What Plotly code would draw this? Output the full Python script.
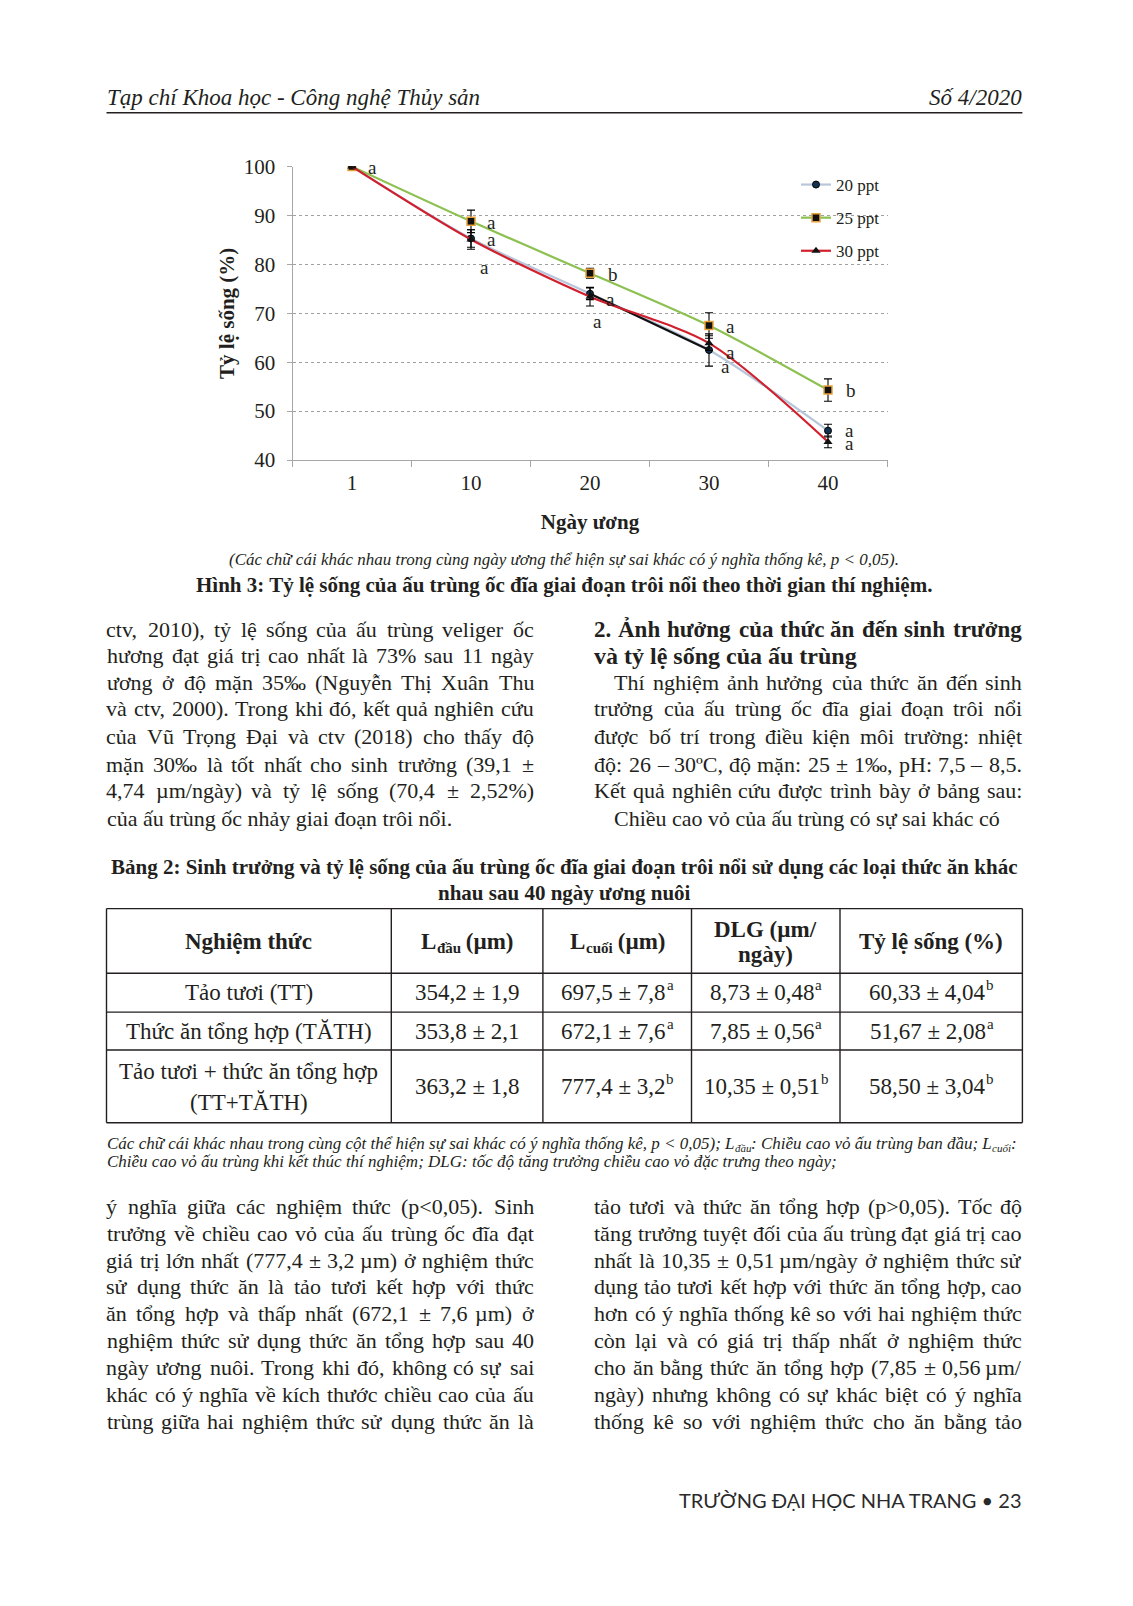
import unicodedata
import plotly.graph_objects as go

W, H = 1133, 1606
SERIF = "Liberation Serif, DejaVu Serif, serif"
INK = "#231f20"

# ---- chart data ----
days = ["1", "10", "20", "30", "40"]
s20 = [100, 85.3, 74.0, 62.5, 46.0]
s20_err = [0, 1.8, 1.2, 3.3, 1.3]
s25 = [100, 88.8, 78.2, 67.5, 54.3]
s25_err = [0, 2.3, 1.0, 2.6, 2.3]
s30 = [100, 85.1, 73.4, 63.9, 43.7]
s30_err = [0, 2.0, 1.9, 1.5, 1.2]

# significance letters
sig_day = [0, 1, 1, 1, 2, 2, 2, 3, 3, 3, 4, 4, 4]
sig_txt = ["a", "a", "a", "a", "b", "a", "a", "a", "a", "a", "b", "a", "a"]
sig_y = [99.8, 88.6, 85.1, 79.3, 78.0, 72.9, 68.4, 67.2, 61.9, 59.1, 54.2, 46.0, 43.3]
sig_dx = [0.17, 0.17, 0.17, 0.11, 0.19, 0.17, 0.06, 0.18, 0.18, 0.14, 0.19, 0.18, 0.18]

# ---- table data ----
treat = ["Tảo tươi (TT)", "Thức ăn tổng hợp (TĂTH)", "Tảo tươi + thức ăn tổng hợp"]
l_start = ["354,2 ± 1,9", "353,8 ± 2,1", "363,2 ± 1,8"]
l_end = ["697,5 ± 7,8", "672,1 ± 7,6", "777,4 ± 3,2"]
l_end_sig = ["a", "a", "b"]
dlg = ["8,73 ± 0,48", "7,85 ± 0,56", "10,35 ± 0,51"]
dlg_sig = ["a", "a", "b"]
surv = ["60,33 ± 4,04", "51,67 ± 2,08", "58,50 ± 3,04"]
surv_sig = ["b", "a", "b"]

# ---- page text ----
left_top = [
    "ctv, 2010), tỷ lệ sống của ấu trùng veliger ốc",
    "hương đạt giá trị cao nhất là 73% sau 11 ngày",
    "ương ở độ mặn 35‰ (Nguyễn Thị Xuân Thu",
    "và ctv, 2000). Trong khi đó, kết quả nghiên cứu",
    "của Vũ Trọng Đại và ctv (2018) cho thấy độ",
    "mặn 30‰ là tốt nhất cho sinh trưởng (39,1 ±",
    "4,74 µm/ngày) và tỷ lệ sống (70,4 ± 2,52%)",
    "của ấu trùng ốc nhảy giai đoạn trôi nổi.",
]
right_head = ["2. Ảnh hưởng của thức ăn đến sinh trưởng", "và tỷ lệ sống của ấu trùng"]
right_top = [
    "Thí nghiệm ảnh hưởng của thức ăn đến sinh",
    "trưởng của ấu trùng ốc đĩa giai đoạn trôi nổi",
    "được bố trí trong điều kiện môi trường: nhiệt",
    "độ: 26 – 30ºC, độ mặn: 25 ± 1‰, pH: 7,5 – 8,5.",
    "Kết quả nghiên cứu được trình bày ở bảng sau:",
    "Chiều cao vỏ của ấu trùng có sự sai khác có",
]
left_bot = [
    "ý nghĩa giữa các nghiệm thức (p<0,05). Sinh",
    "trưởng về chiều cao vỏ của ấu trùng ốc đĩa đạt",
    "giá trị lớn nhất (777,4 ± 3,2 µm) ở nghiệm thức",
    "sử dụng thức ăn là tảo tươi kết hợp với thức",
    "ăn tổng hợp và thấp nhất (672,1 ± 7,6 µm) ở",
    "nghiệm thức sử dụng thức ăn tổng hợp sau 40",
    "ngày ương nuôi. Trong khi đó, không có sự sai",
    "khác có ý nghĩa về kích thước chiều cao của ấu",
    "trùng giữa hai nghiệm thức sử dụng thức ăn là",
]
right_bot = [
    "tảo tươi và thức ăn tổng hợp (p>0,05). Tốc độ",
    "tăng trưởng tuyệt đối của ấu trùng đạt giá trị cao",
    "nhất là 10,35 ± 0,51 µm/ngày ở nghiệm thức sử",
    "dụng tảo tươi kết hợp với thức ăn tổng hợp, cao",
    "hơn có ý nghĩa thống kê so với hai nghiệm thức",
    "còn lại và có giá trị thấp nhất ở nghiệm thức",
    "cho ăn bằng thức ăn tổng hợp (7,85 ± 0,56 µm/",
    "ngày) nhưng không có sự khác biệt có ý nghĩa",
    "thống kê so với nghiệm thức cho ăn bằng tảo",
]
fig_note = "(Các chữ cái khác nhau trong cùng ngày ương thể hiện sự sai khác có ý nghĩa thống kê, p < 0,05)."
fig_cap = "Hình 3: Tỷ lệ sống của ấu trùng ốc đĩa giai đoạn trôi nổi theo thời gian thí nghiệm."
tbl_cap = ["Bảng 2: Sinh trưởng và tỷ lệ sống của ấu trùng ốc đĩa giai đoạn trôi nổi sử dụng các loại thức ăn khác",
           "nhau sau 40 ngày ương nuôi"]
tbl_note2 = "Chiều cao vỏ ấu trùng khi kết thúc thí nghiệm; DLG: tốc độ tăng trưởng chiều cao vỏ đặc trưng theo ngày;"
tbl_note1 = [("Các chữ cái khác nhau trong cùng cột thể hiện sự sai khác có ý nghĩa thống kê, p < 0,05); L", "n"),
             ("đầu", "sub"), (": Chiều cao vỏ ấu trùng ban đầu; L", "n"), ("cuối", "sub"), (":", "n")]

# ---- Times metrics (per 1000 em) ----
LOW = "abcdefghijklmnopqrstuvwxyz"
UP = LOW.upper()
W_LOW = {
    "r": [444, 500, 444, 500, 444, 333, 500, 500, 278, 278, 500, 278, 778, 500, 500, 500, 500, 333, 389, 278, 500, 500, 722, 500, 500, 444],
    "b": [500, 556, 444, 556, 444, 333, 500, 556, 278, 333, 556, 278, 833, 556, 500, 556, 556, 444, 389, 333, 556, 500, 722, 500, 500, 444],
    "i": [500, 500, 444, 500, 444, 278, 500, 500, 278, 278, 444, 278, 722, 500, 500, 500, 500, 389, 389, 278, 500, 444, 667, 444, 444, 389],
}
W_UP = {
    "r": [722, 667, 667, 722, 611, 556, 722, 722, 333, 389, 722, 611, 889, 722, 722, 556, 722, 667, 556, 611, 722, 722, 944, 722, 722, 611],
    "b": [722, 667, 722, 722, 667, 611, 778, 778, 389, 500, 778, 667, 944, 722, 778, 611, 778, 722, 556, 667, 722, 722, 1000, 722, 722, 667],
    "i": [611, 611, 667, 722, 611, 611, 722, 722, 333, 444, 667, 556, 833, 667, 722, 611, 722, 611, 500, 556, 722, 611, 833, 611, 556, 556],
}
PUNCT = {
    "r": {" ": 250, ",": 250, ".": 250, ":": 278, ";": 278, "(": 333, ")": 333, "-": 333, "/": 278, "%": 833,
          "+": 564, "<": 564, ">": 564, "±": 564, "‰": 1000, "µ": 500, "–": 500, "º": 310},
    "b": {" ": 250, ",": 250, ".": 250, ":": 333, ";": 333, "(": 333, ")": 333, "-": 333, "/": 278, "%": 1000,
          "+": 570, "<": 570, ">": 570, "±": 570, "‰": 1000, "µ": 556, "–": 500, "º": 330},
    "i": {" ": 250, ",": 250, ".": 250, ":": 333, ";": 333, "(": 333, ")": 333, "-": 333, "/": 278, "%": 833,
          "+": 675, "<": 675, ">": 675, "±": 675, "‰": 1000, "µ": 500, "–": 500, "º": 310},
}
HORN = {"r": 560, "b": 620, "i": 540}


def cw(ch, st):
    if ch.isdigit():
        return 500
    if ch in PUNCT[st]:
        return PUNCT[st][ch]
    d = unicodedata.normalize("NFD", ch)
    b = d[0]
    if ch == "đ":
        b = "d"
    if ch == "Đ":
        b = "D"
    if "\u031b" in d:
        return HORN[st] if b in "uo" else 760
    if b in LOW:
        return W_LOW[st][LOW.index(b)]
    if b in UP:
        return W_UP[st][UP.index(b)]
    return 500


def em(s, st="r"):
    return sum(cw(c, st) for c in s) / 1000


annos = []
shapes = []


def px(x):
    return x / W


def py(y):
    return 1 - y / H


def add(txt, x, y, size, st="r", anchor="left", color=INK, family=SERIF):
    txt = txt.replace("<", "&lt;").replace(">", "&gt;")
    f = dict(family=family, size=int(round(size)), color=color)
    if st == "b":
        f["weight"] = "bold"
    elif st == "i":
        f["style"] = "italic"
    annos.append(dict(x=px(x), y=py(y), xref="paper", yref="paper", text=txt, showarrow=False,
                      xanchor=anchor, yanchor="middle", borderpad=0, borderwidth=0, font=f))


def add_runs(runs, x, y, size, st="r", anchor="left"):
    # text with sub/superscript parts, each part its own label
    size = int(round(size))
    small = int(round(size * 0.65))
    widths = [em(t, st) * (small if k != "n" else size) for t, k in runs]
    left = x - sum(widths) / 2 if anchor == "center" else x
    for (t, k), w in zip(runs, widths):
        if k == "n":
            add(t, left, y, size, st)
        elif k == "sub":
            add(t, left + 0.5, y + 0.3 * size, small, st)
        else:
            add(t, left + 0.5, y - 0.33 * size, small, st)
        left += w


def line_just(txt, y, x0, x1, size, st="r", just=True, indent=0):
    # justified line: first half of the words laid from the left edge, the rest from the right edge
    left = x0 + indent
    words = txt.split(" ")
    if not just or len(words) < 2:
        add(txt, left, y, size, st)
        return
    ws = [em(w, st) * size for w in words]
    n = len(words)
    gap = max((x1 - left - sum(ws)) / (n - 1), 0.15 * size)
    half = (n + 1) // 2
    x = left
    for i in range(half):
        add(words[i], x, y, size, st)
        x += ws[i] + gap
    x = x1
    for i in range(n - 1, half - 1, -1):
        add(words[i], x, y, size, st, "right")
        x -= ws[i] + gap


def hline(x0, x1, y, w=1.4):
    shapes.append(dict(type="line", xref="paper", yref="paper", x0=px(x0), x1=px(x1), y0=py(y), y1=py(y),
                       line=dict(color=INK, width=w)))


def vline(x, y0, y1, w=1.4):
    shapes.append(dict(type="line", xref="paper", yref="paper", x0=px(x), x1=px(x), y0=py(y0), y1=py(y1),
                       line=dict(color=INK, width=w)))


# ---- header / footer ----
LX0, LX1 = 106.5, 533.7
RX0, RX1 = 594.2, 1022.4
add("Tạp chí Khoa học - Công nghệ Thủy sản", LX0, 97, 23, "i")
add("Số 4/2020", RX1, 97, 23, "i", "right")
hline(LX0, RX1, 112.7, 1.5)
add("TRƯỜNG ĐẠI HỌC NHA TRANG • 23", RX1, 1500, 20, "r", "right", "#2a2a2a", "Lato, DejaVu Sans, sans-serif")

# ---- captions ----
mid = (LX0 + RX1) / 2
add(fig_note, mid, 559, 654 / em(fig_note, "i"), "i", "center")
add(fig_cap, mid, 585, 723 / em(fig_cap, "b"), "b", "center")
cap_size = 898 / em(tbl_cap[0], "b")
add(tbl_cap[0], mid, 867, cap_size, "b", "center")
add(tbl_cap[1], mid, 893, cap_size, "b", "center")
note_size = 712 / em(tbl_note2, "i")
add_runs(tbl_note1, LX0, 1143, note_size, "i")
add(tbl_note2, LX0, 1161, note_size, "i")

# ---- body text ----
BODY = 22
y_top = [629, 655.6, 682.2, 708.9, 736.5, 764.2, 790.8, 818.5]
for i, t in enumerate(left_top):
    line_just(t, y_top[i], LX0, LX1, BODY, just=(i < len(left_top) - 1))
line_just(right_head[0], y_top[0], RX0, RX1, 23, "b")
line_just(right_head[1], y_top[1], RX0, RX1, 24, "b", just=False)
for i, t in enumerate(right_top):
    ind = 20 if i in (0, 5) else 0
    line_just(t, y_top[i + 2], RX0, RX1, BODY, indent=ind, just=(i != 5))
y_bot = [1206.8, 1233.4, 1260, 1286.7, 1313.3, 1340, 1367.6, 1394.2, 1421.9]
for i, t in enumerate(left_bot):
    line_just(t, y_bot[i], LX0, LX1, BODY)
for i, t in enumerate(right_bot):
    line_just(t, y_bot[i], RX0, RX1, BODY)

# ---- table ----
cx = [106.5, 391.3, 542.9, 691.5, 840, 1022.4]
ry = [908.6, 973.2, 1012.1, 1050, 1122.7]
for y in ry:
    hline(cx[0], cx[-1], y)
for x in cx:
    vline(x, ry[0], ry[-1])
cc = [(cx[i] + cx[i + 1]) / 2 for i in range(5)]
TS = 23
HY = 941.4
add("Nghiệm thức", cc[0], HY, TS, "b", "center")
add_runs([("L", "n"), ("đầu", "sub"), (" (µm)", "n")], cc[1], HY, TS, "b", "center")
add_runs([("L", "n"), ("cuối", "sub"), (" (µm)", "n")], cc[2], HY, TS, "b", "center")
add("DLG (µm/", cc[3], 929, TS, "b", "center")
add("ngày)", cc[3], 954.8, TS, "b", "center")
add("Tỷ lệ sống (%)", cc[4], HY, TS, "b", "center")
row_y = [992.6, 1031.6, 1086.5]
for i in range(3):
    if i == 2:
        add(treat[i], cc[0], 1071.5, TS, "r", "center")
        add("(TT+TĂTH)", cc[0], 1102.3, TS, "r", "center")
    else:
        add(treat[i], cc[0], row_y[i], TS, "r", "center")
    add(l_start[i], cc[1], row_y[i], TS, "r", "center")
    add_runs([(l_end[i], "n"), (l_end_sig[i], "sup")], cc[2], row_y[i], TS, "r", "center")
    add_runs([(dlg[i], "n"), (dlg_sig[i], "sup")], cc[3], row_y[i], TS, "r", "center")
    add_runs([(surv[i], "n"), (surv_sig[i], "sup")], cc[4], row_y[i], TS, "r", "center")

# ---- chart ----
fig = go.Figure()
err = dict(type="data", color="black", thickness=1.1, width=4)
fig.add_trace(go.Scatter(
    x=days, y=s20, name="20 ppt", mode="lines+markers", legendgroup="g20",
    line=dict(color="#B7C6D9", width=2.2, shape="spline", smoothing=0.8),
    marker=dict(symbol="circle", size=7, color="#14324f", line=dict(color="black", width=1)),
    error_y=dict(err, array=s20_err)))
fig.add_trace(go.Scatter(
    x=days[2:4], y=s20[2:4], mode="lines", showlegend=False, hoverinfo="skip",
    line=dict(color="#111111", width=2.2)))
fig.add_trace(go.Scatter(
    x=days, y=s25, name="25 ppt", mode="lines+markers", legendgroup="g25",
    line=dict(color="#8CC152", width=2.2, shape="spline", smoothing=0.8),
    marker=dict(symbol="square", size=8, color="#111111", line=dict(color="#E9A23B", width=1.5)),
    error_y=dict(err, array=s25_err)))
fig.add_trace(go.Scatter(
    x=days, y=s30, name="30 ppt", mode="lines+markers", legendgroup="g30",
    line=dict(color="#D0202E", width=2.2, shape="spline", smoothing=0.8),
    marker=dict(symbol="triangle-up", size=8, color="#111111"),
    error_y=dict(err, array=s30_err)))

for d, t, y, dx in zip(sig_day, sig_txt, sig_y, sig_dx):
    annos.append(dict(x=d + dx, y=y, xref="x", yref="y", text=t, showarrow=False,
                      xanchor="center", yanchor="middle", borderpad=0, borderwidth=0,
                      font=dict(family=SERIF, size=19, color=INK)))

fig.update_xaxes(
    type="category", range=[-0.5, 4.5], domain=[px(292.5), px(887.5)], automargin=False,
    tickson="boundaries", ticks="outside", ticklen=6, tickcolor="#A6A6A6", ticklabelstandoff=4,
    showline=True, linecolor="#A6A6A6", linewidth=1, showgrid=False,
    tickfont=dict(family=SERIF, size=21, color=INK),
    title=dict(text="Ngày ương", standoff=20, font=dict(family=SERIF, size=21, color=INK, weight="bold")))
fig.update_yaxes(
    range=[40, 100], dtick=10, domain=[py(460), py(166.6)], automargin=False,
    ticks="outside", ticklen=5, tickcolor="#A6A6A6", ticklabelstandoff=7,
    showline=True, linecolor="#A6A6A6", linewidth=1,
    showgrid=True, gridcolor="#A0A0A0", griddash="dot", gridwidth=1, zeroline=False,
    tickfont=dict(family=SERIF, size=21, color=INK),
    title=dict(text="Tỷ lệ sống (%)", standoff=3, font=dict(family=SERIF, size=21, color=INK, weight="bold")))

fig.update_layout(
    width=W, height=H, margin=dict(l=0, r=0, t=0, b=0, autoexpand=False),
    paper_bgcolor="white", plot_bgcolor="white",
    showlegend=True,
    legend=dict(x=px(796), y=py(167), xanchor="left", yanchor="top", bgcolor="rgba(0,0,0,0)",
                font=dict(family=SERIF, size=17, color=INK), tracegroupgap=8),
    annotations=annos, shapes=shapes)

fig.write_html("out.html", config={"displayModeBar": False},
               post_script="document.body.style.margin='0';")
